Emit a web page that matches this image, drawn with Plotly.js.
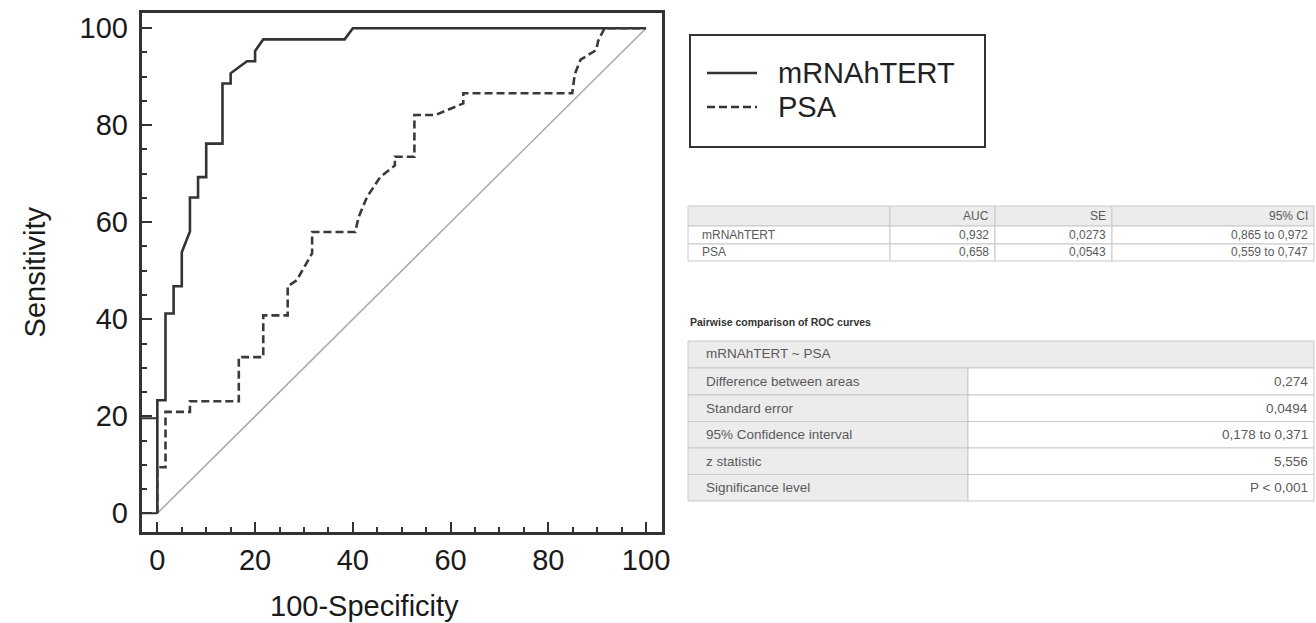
<!DOCTYPE html>
<html>
<head>
<meta charset="utf-8">
<script src="https://cdn.plot.ly/plotly-3.0.1.min.js"></script>
<style>
html,body{margin:0;padding:0;background:#fff;}
#chart{width:1316px;height:623px;}
</style>
</head>
<body>
<div id="chart"></div>
<script>
// ---------- data ----------
const seriesNames = ['mRNAhTERT', 'PSA'];
// mRNAhTERT ROC curve (100-Specificity, Sensitivity)
const mrnaX = [0, 0, 1.67, 1.67, 3.33, 3.33, 5, 5, 6.67, 6.67, 8.33, 8.33, 10, 10, 13.33, 13.33, 15, 15, 18.33, 20, 20, 21.67, 38.33, 40, 100];
const mrnaY = [0, 23.3, 23.3, 41.2, 41.2, 46.8, 46.8, 53.8, 58.1, 65.1, 65.1, 69.3, 69.3, 76.2, 76.2, 88.6, 88.6, 90.7, 93.2, 93.2, 95.3, 97.7, 97.7, 100, 100];
// PSA ROC curve
const psaX = [0, 0, 1.67, 1.67, 6.67, 6.67, 16.67, 16.67, 21.67, 21.67, 26.67, 26.67, 28.5, 31.67, 31.67, 40.5, 41.2, 42.9, 45.6, 48.6, 48.6, 52.6, 52.6, 56.9, 62.6, 62.6, 84.9, 85.4, 86.6, 89.8, 90.2, 91.5, 100];
const psaY = [0, 9.5, 9.5, 20.9, 20.9, 23.1, 23.1, 32.2, 32.2, 40.8, 40.8, 46.8, 48.0, 53.6, 58.0, 58.0, 61.1, 65.2, 69.3, 71.7, 73.5, 73.5, 82.1, 82.1, 84.5, 86.6, 86.6, 90.5, 93.5, 95.5, 97.4, 100, 100];
// reference diagonal
const diagX = [0, 100];
const diagY = [0, 100];
// axis ticks and titles
const tickValues = [0, 20, 40, 60, 80, 100];
const tickLabels = ['0', '20', '40', '60', '80', '100'];
const xTitle = '100-Specificity';
const yTitle = 'Sensitivity';

// AUC table
const aucHeader = ['', 'AUC', 'SE', '95% CI'];
const aucNames = ['mRNAhTERT', 'PSA'];
const aucValues = ['0,932', '0,658'];
const seValues = ['0,0273', '0,0543'];
const ciValues = ['0,865 to 0,972', '0,559 to 0,747'];

// Pairwise comparison table
const pairTitle = 'Pairwise comparison of ROC curves';
const pairHeader = 'mRNAhTERT ~ PSA';
const pairLabels = ['Difference between areas', 'Standard error', '95% Confidence interval', 'z statistic', 'Significance level'];
const pairValues = ['0,274', '0,0494', '0,178 to 0,371', '5,556', 'P < 0,001'];

// ---------- layout helpers (pixel -> paper) ----------
const W = 1316, H = 623;
const px = v => v / W;
const py = v => 1 - v / H;
const FONT = 'Liberation Sans, Arial, sans-serif';

const shapes = [];
const annotations = [];

// small stubs in the lower-left corner of the frame
shapes.push({type:'line', xref:'x', yref:'y', x0:-3.2, x1:0, y0:0, y1:0, line:{color:'#333', width:2}});
shapes.push({type:'line', xref:'x', yref:'y', x0:-3.2, x1:0, y0:19.6, y1:19.6, line:{color:'#333', width:2}});

// x-axis title
annotations.push({xref:'paper', yref:'paper', x:px(364), y:py(606), text:xTitle, showarrow:false, xanchor:'center', yanchor:'middle', font:{family:FONT, size:29, color:'#1a1a1a'}});

// legend box
shapes.push({type:'rect', xref:'paper', yref:'paper', x0:px(690), x1:px(985), y0:py(35), y1:py(147), line:{color:'#333', width:2}, fillcolor:'rgba(0,0,0,0)'});
const legendRows = [73, 107];
const legendDash = ['solid', '8px,4px'];
seriesNames.forEach((n, i) => {
  shapes.push({type:'line', xref:'paper', yref:'paper', x0:px(707), x1:px(757), y0:py(legendRows[i]), y1:py(legendRows[i]), line:{color:'#333', width:2.5, dash:legendDash[i]}});
  annotations.push({xref:'paper', yref:'paper', x:px(776), y:py(legendRows[i]), text:n, showarrow:false, xanchor:'left', yanchor:'middle', font:{family:FONT, size:29, color:'#222'}});
});

// ---------- AUC table ----------
const t1Cols = [688, 890, 995, 1112, 1314];
const t1Rows = [206, 226, 244, 261];
const gridColor = '#c9c9c9';
const textColor = '#5a5a5a';
const tFont = {family: FONT, size: 12, color: textColor};
const t2Font = {family: FONT, size: 13.5, color: textColor};
function cell(x0, x1, y0, y1, fill) {
  shapes.push({type:'rect', xref:'paper', yref:'paper', x0:px(x0), x1:px(x1), y0:py(y0), y1:py(y1), line:{color:gridColor, width:1}, fillcolor:fill, layer:'below'});
}
function txt(x, y, s, anchor, font) {
  annotations.push({xref:'paper', yref:'paper', x:px(x), y:py(y), text:s, showarrow:false, xanchor:anchor, yanchor:'middle', font:font || tFont});
}
// header
for (let c = 0; c < 4; c++) {
  cell(t1Cols[c], t1Cols[c+1], t1Rows[0], t1Rows[1], '#ececec');
  if (aucHeader[c]) txt(t1Cols[c+1] - 4, (t1Rows[0] + t1Rows[1]) / 2, aucHeader[c], 'right');
}
const t1Data = [aucNames, aucValues, seValues, ciValues];
for (let r = 0; r < aucNames.length; r++) {
  for (let c = 0; c < 4; c++) {
    cell(t1Cols[c], t1Cols[c+1], t1Rows[r+1], t1Rows[r+2], '#ffffff');
    const yc = (t1Rows[r+1] + t1Rows[r+2]) / 2;
    if (c === 0) txt(t1Cols[0] + 12, yc, t1Data[c][r], 'left');
    else txt(t1Cols[c+1] - 4, yc, t1Data[c][r], 'right');
  }
}

// ---------- Pairwise table ----------
txt(688, 322, '<b>' + pairTitle + '</b>', 'left', {family: FONT, size: 10.5, color: '#333'});
const t2Cols = [688, 968, 1314];
const t2Rows = [341, 368, 395, 421.5, 448, 474.5, 501];
cell(t2Cols[0], t2Cols[2], t2Rows[0], t2Rows[1], '#ececec');
txt(t2Cols[0] + 16, (t2Rows[0] + t2Rows[1]) / 2 - 1, pairHeader, 'left', t2Font);
for (let r = 0; r < pairLabels.length; r++) {
  const y0 = t2Rows[r+1], y1 = t2Rows[r+2], yc = (y0 + y1) / 2;
  cell(t2Cols[0], t2Cols[1], y0, y1, '#ececec');
  cell(t2Cols[1], t2Cols[2], y0, y1, '#ffffff');
  txt(t2Cols[0] + 16, yc, pairLabels[r], 'left', t2Font);
  txt(t2Cols[2] - 4, yc, pairValues[r], 'right', t2Font);
}

// ---------- traces ----------
const traces = [
  {x: diagX, y: diagY, mode: 'lines', line: {color: '#a8a8a8', width: 1.5}, hoverinfo: 'skip', showlegend: false},
  {x: mrnaX, y: mrnaY, name: seriesNames[0], mode: 'lines', line: {color: '#333', width: 2.6}, showlegend: false},
  {x: psaX, y: psaY, name: seriesNames[1], mode: 'lines', line: {color: '#3a3a3a', width: 2.6, dash: '8px,4px'}, showlegend: false}
];

const axisCommon = {
  tickmode: 'array', tickvals: tickValues, ticktext: tickLabels,
  ticks: 'inside', ticklen: 10, tickwidth: 2, tickcolor: '#333',
  minor: {ticks: 'inside', ticklen: 5, tickwidth: 2, tickcolor: '#333', dtick: 5, tick0: 0, showgrid: false},
  showline: true, linewidth: 3, linecolor: '#333', mirror: true,
  showgrid: false, zeroline: false,
  tickfont: {family: FONT, size: 29, color: '#1a1a1a'},
  fixedrange: true
};

const layout = {
  width: W, height: H,
  margin: {l: 0, r: 0, t: 0, b: 0},
  paper_bgcolor: '#fff', plot_bgcolor: '#fff',
  showlegend: false,
  xaxis: Object.assign({}, axisCommon, {
    domain: [px(141.7), px(661.7)], range: [-3.2, 103.2],
    ticklabelstandoff: 0
  }),
  yaxis: Object.assign({}, axisCommon, {
    domain: [py(531.7), py(12.7)], range: [-3.8, 103.2],
    ticklabelstandoff: 5,
    title: {text: yTitle, font: {family: FONT, size: 29, color: '#1a1a1a'}, standoff: 26}
  }),
  shapes: shapes,
  annotations: annotations
};

Plotly.newPlot('chart', traces, layout, {displayModeBar: false, staticPlot: true});
</script>
</body>
</html>
